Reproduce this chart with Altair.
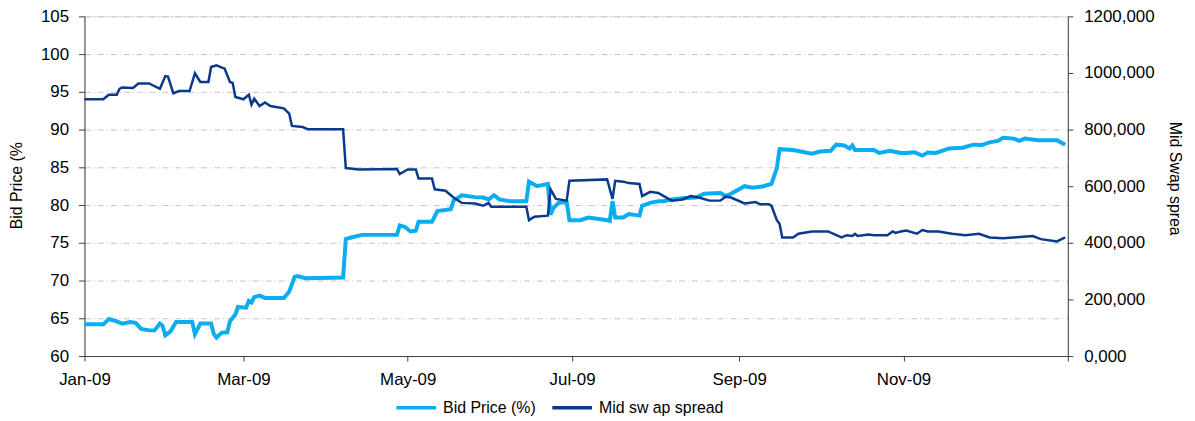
import altair as alt
import pandas as pd

# ---------------- data ----------------
series_names = ["Bid Price (%)", "Mid sw ap spread"]
series_colors = ["#0AADEF", "#0B3A8C"]

bid_dates = [
    "2009-01-01", "2009-01-08", "2009-01-10", "2009-01-13", "2009-01-15", "2009-01-18", "2009-01-20",
    "2009-01-22", "2009-01-25", "2009-01-27", "2009-01-29", "2009-01-30", "2009-01-31", "2009-02-02",
    "2009-02-04", "2009-02-10", "2009-02-11", "2009-02-13", "2009-02-17", "2009-02-18", "2009-02-19",
    "2009-02-21", "2009-02-23", "2009-02-24", "2009-02-26", "2009-02-27", "2009-03-02", "2009-03-03",
    "2009-03-04", "2009-03-05", "2009-03-07", "2009-03-09", "2009-03-16", "2009-03-18", "2009-03-20",
    "2009-03-21", "2009-03-24", "2009-04-07", "2009-04-08", "2009-04-10", "2009-04-14", "2009-04-27",
    "2009-04-28", "2009-04-30", "2009-05-02", "2009-05-04", "2009-05-05", "2009-05-10", "2009-05-12",
    "2009-05-17", "2009-05-18", "2009-05-20", "2009-05-21", "2009-05-26", "2009-05-29", "2009-05-31",
    "2009-06-02", "2009-06-04", "2009-06-08", "2009-06-14", "2009-06-15", "2009-06-18", "2009-06-22",
    "2009-06-23", "2009-06-24", "2009-06-26", "2009-06-29", "2009-06-30", "2009-07-04", "2009-07-07",
    "2009-07-11", "2009-07-14", "2009-07-15", "2009-07-16", "2009-07-17", "2009-07-20", "2009-07-22",
    "2009-07-26", "2009-07-27", "2009-07-30", "2009-08-02", "2009-08-04", "2009-08-07", "2009-08-11",
    "2009-08-16", "2009-08-19", "2009-08-25", "2009-08-27", "2009-08-29", "2009-09-03", "2009-09-06",
    "2009-09-10", "2009-09-13", "2009-09-15", "2009-09-16", "2009-09-21", "2009-09-28", "2009-10-01",
    "2009-10-05", "2009-10-07", "2009-10-10", "2009-10-12", "2009-10-13", "2009-10-14", "2009-10-21",
    "2009-10-23", "2009-10-27", "2009-10-31", "2009-11-02", "2009-11-05", "2009-11-08", "2009-11-10",
    "2009-11-13", "2009-11-18", "2009-11-23", "2009-11-27", "2009-11-30", "2009-12-03", "2009-12-06",
    "2009-12-08", "2009-12-12", "2009-12-14", "2009-12-16", "2009-12-21", "2009-12-28", "2009-12-31",
]
bid_values = [
    64.2, 64.2, 64.9, 64.6, 64.3, 64.5, 64.4,
    63.6, 63.4, 63.4, 64.3, 64.0, 62.75, 63.3,
    64.5, 64.5, 62.9, 64.3, 64.3, 62.9, 62.45,
    63.1, 63.15, 64.6, 65.5, 66.5, 66.4, 67.3,
    67.1, 67.8, 68.0, 67.7, 67.7, 68.55, 70.5,
    70.6, 70.3, 70.4, 75.5, 75.7, 76.05, 76.05,
    77.3, 77.1, 76.5, 76.6, 77.8, 77.8, 79.2,
    79.45, 80.6, 81.05, 81.3, 81.05, 81.0, 80.75,
    81.3, 80.75, 80.5, 80.5, 83.1, 82.5, 82.8,
    78.7, 79.6, 80.3, 80.4, 78.0, 78.0, 78.35,
    78.15, 78.0, 77.9, 80.5, 78.35, 78.35, 78.8,
    78.6, 79.9, 80.3, 80.5, 80.5, 80.75, 80.9,
    81.0, 81.5, 81.6, 81.2, 81.5, 82.5, 82.3,
    82.5, 82.8, 84.9, 87.4, 87.3, 86.8, 87.1,
    87.2, 88.0, 87.9, 87.5, 87.9, 87.3, 87.3,
    86.9, 87.2, 86.9, 86.9, 87.0, 86.55, 86.95,
    86.9, 87.5, 87.6, 88.0, 87.95, 88.3, 88.5,
    88.9, 88.8, 88.5, 88.8, 88.6, 88.6, 88.0,
]

swap_dates = [
    "2009-01-01", "2009-01-08", "2009-01-10", "2009-01-13", "2009-01-14", "2009-01-15", "2009-01-19",
    "2009-01-21", "2009-01-25", "2009-01-29", "2009-01-31", "2009-02-01", "2009-02-03", "2009-02-05",
    "2009-02-09", "2009-02-11", "2009-02-13", "2009-02-16", "2009-02-17", "2009-02-19", "2009-02-21",
    "2009-02-22", "2009-02-24", "2009-02-25", "2009-02-26", "2009-03-01", "2009-03-03", "2009-03-04",
    "2009-03-05", "2009-03-07", "2009-03-09", "2009-03-11", "2009-03-16", "2009-03-18", "2009-03-19",
    "2009-03-23", "2009-03-25", "2009-04-07", "2009-04-08", "2009-04-13", "2009-04-27", "2009-04-28",
    "2009-05-01", "2009-05-04", "2009-05-05", "2009-05-10", "2009-05-11", "2009-05-15", "2009-05-18",
    "2009-05-21", "2009-05-26", "2009-05-29", "2009-05-31", "2009-06-01", "2009-06-14", "2009-06-15",
    "2009-06-17", "2009-06-22", "2009-06-23", "2009-06-25", "2009-06-29", "2009-06-30", "2009-07-14",
    "2009-07-16", "2009-07-17", "2009-07-20", "2009-07-22", "2009-07-26", "2009-07-27", "2009-07-30",
    "2009-08-02", "2009-08-04", "2009-08-07", "2009-08-11", "2009-08-14", "2009-08-17", "2009-08-21",
    "2009-08-25", "2009-08-27", "2009-08-29", "2009-09-03", "2009-09-07", "2009-09-09", "2009-09-12",
    "2009-09-13", "2009-09-15", "2009-09-16", "2009-09-17", "2009-09-21", "2009-09-23", "2009-09-28",
    "2009-10-04", "2009-10-09", "2009-10-11", "2009-10-13", "2009-10-14", "2009-10-15", "2009-10-19",
    "2009-10-21", "2009-10-26", "2009-10-28", "2009-10-29", "2009-10-31", "2009-11-02", "2009-11-06",
    "2009-11-08", "2009-11-10", "2009-11-14", "2009-11-19", "2009-11-24", "2009-11-29", "2009-12-03",
    "2009-12-08", "2009-12-13", "2009-12-19", "2009-12-22", "2009-12-28", "2009-12-31",
]
swap_values = [
    907000, 907000, 923000, 923000, 944000, 949000, 947000,
    963000, 963000, 944000, 989000, 987000, 928000, 936000,
    936000, 999000, 968000, 968000, 1021000, 1027000, 1019000,
    1016000, 968000, 965000, 915000, 907000, 923000, 888000,
    909000, 883000, 896000, 883000, 875000, 856000, 813000,
    809000, 801000, 801000, 664000, 659000, 661000, 643000,
    659000, 659000, 627000, 627000, 589000, 584000, 560000,
    541000, 539000, 531000, 541000, 527000, 527000, 480000,
    492000, 496000, 589000, 555000, 549000, 619000, 624000,
    555000, 619000, 616000, 611000, 608000, 565000, 580000,
    576000, 565000, 549000, 553000, 565000, 560000, 549000,
    549000, 563000, 560000, 539000, 544000, 536000, 536000,
    531000, 480000, 467000, 419000, 419000, 432000, 440000,
    440000, 419000, 427000, 424000, 432000, 424000, 429000,
    427000, 427000, 440000, 435000, 440000, 443000, 432000,
    445000, 440000, 440000, 432000, 427000, 432000, 419000,
    416000, 420000, 424000, 413000, 405000, 419000,
]

x_tick_dates = [(2009, 1), (2009, 3), (2009, 5), (2009, 7), (2009, 9), (2009, 11), (2010, 1)]
left_ticks = [60, 65, 70, 75, 80, 85, 90, 95, 100, 105]
right_ticks = [0, 200000, 400000, 600000, 800000, 1000000, 1200000]

left_title = "Bid Price (%"
right_title = "Mid Swap sprea"

# ---------------- chart ----------------
FONT = "Liberation Sans"

bid_df = pd.DataFrame({"date": bid_dates, "value": bid_values, "series": series_names[0]})
swap_df = pd.DataFrame({"date": swap_dates, "value": swap_values, "series": series_names[1]})

color_scale = alt.Scale(domain=series_names, range=series_colors)
legend = alt.Legend(
    title=None, orient="none", legendX=312, legendY=372, direction="horizontal",
    symbolType="stroke", symbolStrokeWidth=3.5, symbolSize=1600, padding=0,
    labelFont=FONT, labelFontSize=16, labelColor="black", columnPadding=9, labelOffset=5,
)

x_enc = alt.X(
    "date:T",
    scale=alt.Scale(type="utc",
                    domain=[alt.DateTime(year=2009, month=1, date=1, utc=True),
                            alt.DateTime(year=2010, month=1, date=1, utc=True)]),
    axis=alt.Axis(
        title=None, grid=False,
        values=[alt.DateTime(year=y, month=m, date=1, utc=True) for y, m in x_tick_dates],
        labelExpr="utcFormat(datum.value, '%Y') == '2010' ? '' : utcFormat(datum.value, '%b-%y')",
        labelFont=FONT, labelFontSize=17, labelColor="black", labelPadding=11,
        tickSize=5, tickColor="#404040", domainColor="#404040", labelFlush=False,
    ),
)

bid_line = alt.Chart(bid_df).mark_line(strokeWidth=4, interpolate="linear").encode(
    x=x_enc,
    y=alt.Y("value:Q",
            scale=alt.Scale(domain=[60, 105], nice=False, zero=False),
            axis=alt.Axis(
                title=left_title, values=left_ticks, orient="left",
                labelFont=FONT, labelFontSize=17, labelColor="black", labelPadding=10,
                tickSize=6, tickColor="#404040", domainColor="#404040",
                grid=True, gridColor="#c4c4c4", gridDash=[6, 3, 1, 3], gridWidth=1,
                titleFont=FONT, titleFontSize=16, titleFontWeight="normal", titleColor="black",
                titleAngle=270, titleX=-68, titleY=170, titleAlign="center", titleBaseline="middle",
            )),
    color=alt.Color("series:N", scale=color_scale, legend=legend),
)

swap_line = alt.Chart(swap_df).mark_line(strokeWidth=2.5, interpolate="linear").encode(
    x=x_enc,
    y=alt.Y("value:Q",
            scale=alt.Scale(domain=[0, 1200000], nice=False),
            axis=alt.Axis(
                title=right_title, values=right_ticks, orient="right", grid=False,
                labelExpr="format(datum.value / 1000, 'd') + ',000'",
                labelFont=FONT, labelFontSize=17, labelColor="black", labelPadding=11,
                tickSize=5, tickColor="#404040", domainColor="#404040",
                titleFont=FONT, titleFontSize=16, titleFontWeight="normal", titleColor="black",
                titleAngle=90, titleX=107, titleY=163, titleAlign="center", titleBaseline="middle",
            )),
    color=alt.Color("series:N", scale=color_scale, legend=legend),
)

chart = alt.layer(bid_line, swap_line).resolve_scale(y="independent", color="shared").properties(
    width=990, height=342,
    padding={"left": 77, "top": 7, "right": 120, "bottom": 64},
    autosize=alt.AutoSizeParams(type="none"),
).configure_view(stroke=None).configure(background="white")

chart.save("out.html", embed_options={"renderer": "svg", "actions": False})
